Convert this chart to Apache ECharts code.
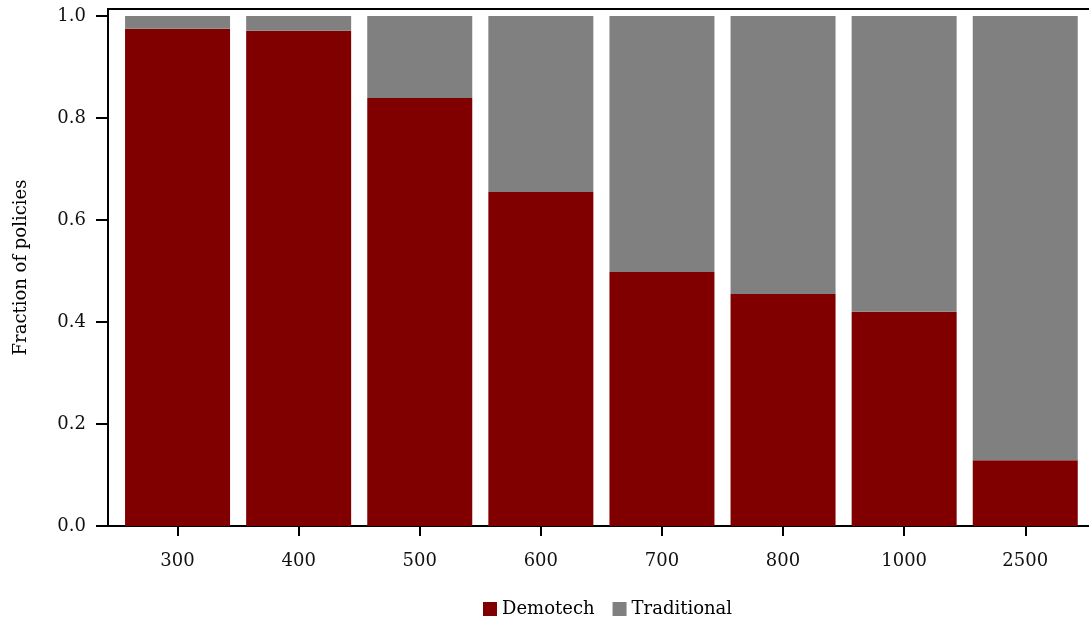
<!DOCTYPE html>
<html>
<head>
<meta charset="utf-8">
<script src="https://cdn.jsdelivr.net/npm/echarts@6/dist/echarts.min.js"></script>
<style>html,body{margin:0;padding:0;background:#fff}#c{width:1089px;height:624px}</style>
</head>
<body>
<div id="c"></div>
<script>
const categories = ['300','400','500','600','700','800','1000','2500'];
const demotech = [0.975, 0.971, 0.839, 0.655, 0.498, 0.455, 0.420, 0.129];
const traditional = [0.025, 0.029, 0.161, 0.345, 0.502, 0.545, 0.580, 0.871];
const yTicks = [0, 0.2, 0.4, 0.6, 0.8, 1.0];

const FONT = 'DejaVu Serif';
const chart = echarts.init(document.getElementById('c'));
chart.setOption({
  animation: false,
  grid: [
    {left: 117, right: 3.2, top: 9, bottom: 98},
    {left: 108, right: -6, top: 9, bottom: 98}
  ],
  legend: {
    data: ['Demotech', 'Traditional'],
    bottom: 1, left: 478,
    itemWidth: 14, itemHeight: 14, itemGap: 18,
    icon: 'rect',
    textStyle: {fontFamily: FONT, fontSize: 18, color: '#000'}
  },
  xAxis: [{
    gridIndex: 0, type: 'category', data: categories,
    axisLine: {show: false},
    axisTick: {show: true, alignWithLabel: true, interval: 0, length: 10, lineStyle: {color: '#000', width: 2}},
    axisLabel: {interval: 0, margin: 26, fontFamily: FONT, fontSize: 18, color: '#111'}
  }, {
    gridIndex: 1, type: 'value', min: 0, max: 1, position: 'bottom',
    splitLine: {show: false},
    axisLine: {show: true, onZero: false, lineStyle: {color: '#000', width: 2}},
    axisTick: {show: false}, axisLabel: {show: false}
  }, {
    gridIndex: 1, type: 'value', min: 0, max: 1, position: 'top',
    splitLine: {show: false},
    axisLine: {show: true, onZero: false, lineStyle: {color: '#000', width: 2}},
    axisTick: {show: false}, axisLabel: {show: false}
  }],
  yAxis: [{
    gridIndex: 0, type: 'value', min: 0, max: 1.0137, offset: 9,
    name: 'Fraction of policies', nameLocation: 'middle', nameGap: 78,
    nameTextStyle: {fontFamily: FONT, fontSize: 18, color: '#000'},
    splitLine: {show: false},
    axisLine: {show: true, onZero: false, lineStyle: {color: '#000', width: 2}},
    axisTick: {show: true, customValues: yTicks, length: 12, lineStyle: {color: '#000', width: 2}},
    axisLabel: {customValues: yTicks, formatter: v => v.toFixed(1), margin: 22,
      fontFamily: FONT, fontSize: 18, color: '#111'}
  }, {
    gridIndex: 1, type: 'value', min: 0, max: 1, show: false
  }],
  series: [{
    name: 'Demotech', type: 'bar', stack: 's', barWidth: 105,
    xAxisIndex: 0, yAxisIndex: 0,
    itemStyle: {color: '#800000'},
    data: demotech
  }, {
    name: 'Traditional', type: 'bar', stack: 's', barWidth: 105,
    xAxisIndex: 0, yAxisIndex: 0,
    itemStyle: {color: '#808080'},
    data: traditional
  }]
});
</script>
</body>
</html>
